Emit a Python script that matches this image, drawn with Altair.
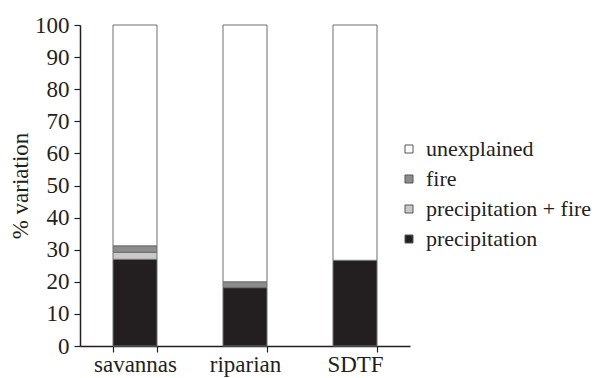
import altair as alt
import pandas as pd

sites = ["savannas", "riparian", "SDTF"]
components = ["precipitation", "precipitation + fire", "fire", "unexplained"]
precipitation = [27.0, 18.2, 26.7]
precip_fire = [2.2, 0.0, 0.0]
fire = [2.0, 1.8, 0.0]
unexplained = [68.8, 80.0, 73.3]

legend_order = ["unexplained", "fire", "precipitation + fire", "precipitation"]
colors = ["#ffffff", "#8c8c8c", "#c8c8c8", "#231f20"]

rows = []
for i, s in enumerate(sites):
    for k, (c, vals) in enumerate(zip(components, [precipitation, precip_fire, fire, unexplained])):
        rows.append({"site": s, "component": c, "value": vals[i], "ord": k})
df = pd.DataFrame(rows)

FONT = "Liberation Serif, Times New Roman, Times, serif"
FS = 23
INK = "#231f20"

chart = alt.Chart(df).mark_bar(stroke="#6e6e6e", strokeWidth=1).encode(
    x=alt.X("site:N", sort=sites, title=None,
            scale=alt.Scale(paddingInner=0.6, paddingOuter=0.3),
            axis=alt.Axis(labelAngle=0, tickBand="extent", labelFontSize=FS, labelFont=FONT,
                          labelColor=INK, domainColor=INK, tickColor=INK,
                          domainWidth=1.5, tickWidth=1.2, tickSize=6, labelPadding=1)),
    y=alt.Y("value:Q", stack="zero", title="% variation",
            scale=alt.Scale(domain=[0, 100]),
            axis=alt.Axis(values=list(range(0, 101, 10)), grid=False, labelFontSize=FS,
                          labelFont=FONT, labelColor=INK, domainColor=INK,
                          tickColor=INK, domainWidth=1.5, tickWidth=1.2, tickSize=6,
                          labelPadding=5, titleFont=FONT, titleFontSize=FS,
                          titleFontWeight="normal", titleColor=INK, titlePadding=2)),
    color=alt.Color("component:N", sort=legend_order,
                    scale=alt.Scale(domain=legend_order, range=colors),
                    legend=alt.Legend(title=None, orient="none", legendX=318, legendY=113,
                                      symbolType="square", symbolSize=64,
                                      symbolStrokeColor="#555555", symbolStrokeWidth=1,
                                      labelFont=FONT, labelFontSize=22, labelColor=INK,
                                      labelLimit=400, rowPadding=8, padding=0,
                                      labelOffset=6)),
    order=alt.Order("ord:Q", sort="ascending"),
).properties(
    width=330, height=321,
    autosize=alt.AutoSizeParams(type="none"),
    padding={"left": 72, "top": 17, "right": 189, "bottom": 32},
    background="white",
).configure_view(stroke=None)

chart.save("out.html", embed_options={"renderer": "svg", "actions": False})
